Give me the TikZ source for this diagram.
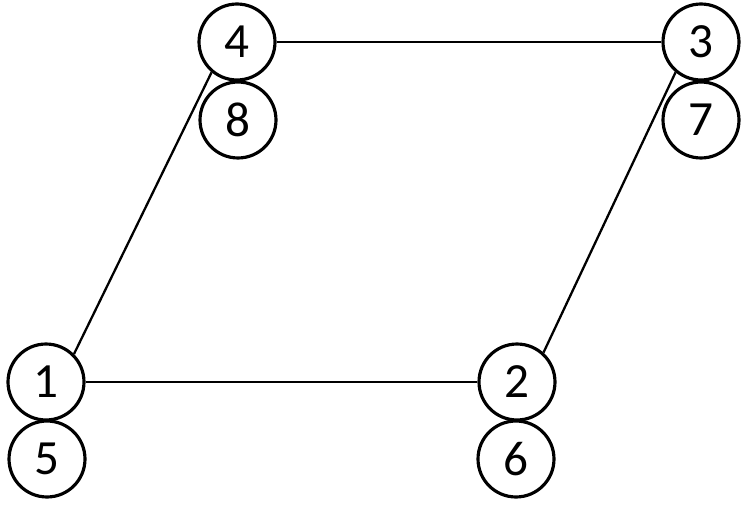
\documentclass[tikz,border=0pt]{standalone}
\usepackage{fontspec}
\setmainfont{Carlito}
\begin{document}
\begin{tikzpicture}
    [
    x=0.02cm, y=-0.02cm,
    every node/.style={font=\fontsize{28}{28}\selectfont},
    vertex/.style={circle, draw, line width=1.8pt, minimum size=1.52cm, inner sep=0pt},
    edge/.style={line width=1.3pt}
    ]

    \useasboundingbox (0,0) rectangle (748,510);

% Top vertices
    \node[vertex] (v4) at (237,42) {4};
    \node[vertex] (v8) at (238,120) {8};
    \node[vertex] (v3) at (701,42) {3};
    \node[vertex] (v7) at (701,120) {7};

% Bottom vertices
    \node[vertex] (v1) at (46,382) {1};
    \node[vertex] (v5) at (47,459) {5};
    \node[vertex] (v2) at (517,382) {2};
    \node[vertex] (v6) at (516,459) {6};

% Edges
    \draw[edge] (v1.east) -- (v2.west);
    \draw[edge] (v4.east) -- (v3.west);
    \draw[edge] (v1.45) -- (v4.230);
    \draw[edge] (v2.48) -- (v3.230);

\end{tikzpicture}
\end{document}
